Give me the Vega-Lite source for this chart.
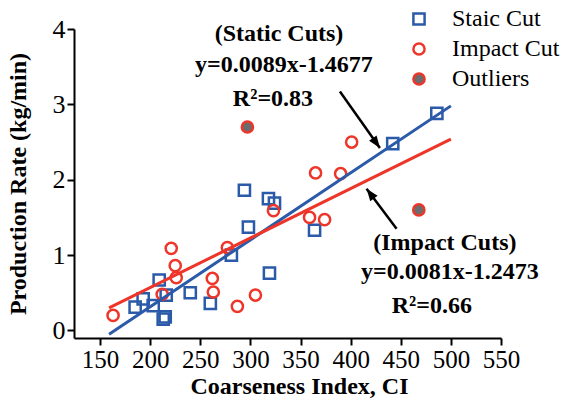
{
  "$schema": "https://vega.github.io/schema/vega-lite/v6.json",
  "autosize": {"type": "none"},
  "width": 427,
  "height": 309,
  "padding": {"left": 74, "top": 29, "right": 62, "bottom": 60},
  "background": "white",
  "config": {
    "view": {"stroke": null},
    "font": "Liberation Serif",
    "axis": {
      "grid": false,
      "domainColor": "black",
      "domainWidth": 2,
      "tickColor": "black",
      "tickWidth": 2,
      "tickSize": 7,
      "labelFont": "Liberation Serif",
      "labelFontSize": 26,
      "labelColor": "black",
      "labelPadding": 2,
      "labelOverlap": false,
      "labelFlush": false,
      "titleFont": "Liberation Serif",
      "titleFontSize": 24,
      "titleFontWeight": "bold",
      "titleColor": "black"
    }
  },
  "datasets": {
    "points": [
      {"ci": 185, "rate": 0.31, "series": "Staic Cut"},
      {"ci": 193, "rate": 0.42, "series": "Staic Cut"},
      {"ci": 203, "rate": 0.33, "series": "Staic Cut"},
      {"ci": 209, "rate": 0.67, "series": "Staic Cut"},
      {"ci": 216, "rate": 0.47, "series": "Staic Cut"},
      {"ci": 213, "rate": 0.15, "series": "Staic Cut"},
      {"ci": 215, "rate": 0.18, "series": "Staic Cut"},
      {"ci": 240, "rate": 0.5, "series": "Staic Cut"},
      {"ci": 260, "rate": 0.36, "series": "Staic Cut"},
      {"ci": 281, "rate": 1.0, "series": "Staic Cut"},
      {"ci": 294, "rate": 1.86, "series": "Staic Cut"},
      {"ci": 298, "rate": 1.37, "series": "Staic Cut"},
      {"ci": 319, "rate": 0.76, "series": "Staic Cut"},
      {"ci": 318, "rate": 1.75, "series": "Staic Cut"},
      {"ci": 324, "rate": 1.69, "series": "Staic Cut"},
      {"ci": 364, "rate": 1.33, "series": "Staic Cut"},
      {"ci": 442, "rate": 2.48, "series": "Staic Cut"},
      {"ci": 486, "rate": 2.88, "series": "Staic Cut"},
      {"ci": 163, "rate": 0.2, "series": "Impact Cut"},
      {"ci": 212, "rate": 0.48, "series": "Impact Cut"},
      {"ci": 226, "rate": 0.7, "series": "Impact Cut"},
      {"ci": 225, "rate": 0.86, "series": "Impact Cut"},
      {"ci": 221, "rate": 1.09, "series": "Impact Cut"},
      {"ci": 262, "rate": 0.69, "series": "Impact Cut"},
      {"ci": 263, "rate": 0.51, "series": "Impact Cut"},
      {"ci": 287, "rate": 0.32, "series": "Impact Cut"},
      {"ci": 305, "rate": 0.47, "series": "Impact Cut"},
      {"ci": 277, "rate": 1.1, "series": "Impact Cut"},
      {"ci": 323, "rate": 1.59, "series": "Impact Cut"},
      {"ci": 359, "rate": 1.5, "series": "Impact Cut"},
      {"ci": 374, "rate": 1.47, "series": "Impact Cut"},
      {"ci": 365, "rate": 2.09, "series": "Impact Cut"},
      {"ci": 390, "rate": 2.08, "series": "Impact Cut"},
      {"ci": 401, "rate": 2.5, "series": "Impact Cut"},
      {"ci": 297, "rate": 2.7, "series": "Outliers"},
      {"ci": 468, "rate": 1.6, "series": "Outliers"}
    ],
    "fits": [
      {"ci": 159, "rate": -0.05, "fit": "Static"},
      {"ci": 500, "rate": 2.98, "fit": "Static"},
      {"ci": 159, "rate": 0.3, "fit": "Impact"},
      {"ci": 500, "rate": 2.54, "fit": "Impact"}
    ],
    "arrows": [
      {"arrow": "Static", "ci": 389.3, "rate": 3.17, "ci2": 429.2, "rate2": 2.42},
      {"arrow": "Impact", "ci": 445.8, "rate": 1.35, "ci2": 415.9, "rate2": 1.88}
    ],
    "notes": [
      {"ci": 328.5, "rate": 3.94, "text": "(Static Cuts)"},
      {"ci": 333.4, "rate": 3.52, "text": "y=0.0089x-1.4677"},
      {"ci": 322.5, "rate": 3.07, "text": "R²=0.83"},
      {"ci": 494, "rate": 1.16, "text": "(Impact Cuts)"},
      {"ci": 499, "rate": 0.77, "text": "y=0.0081x-1.2473"},
      {"ci": 481, "rate": 0.33, "text": "R²=0.66"}
    ]
  },
  "encoding": {
    "x": {
      "field": "ci", "type": "quantitative",
      "scale": {"domain": [124, 550], "nice": false, "zero": false},
      "axis": {"values": [150, 200, 250, 300, 350, 400, 450, 500, 550], "title": "Coarseness Index, CI", "titlePadding": 2, "labelFontSize": 25, "titleX": 225}
    },
    "y": {
      "field": "rate", "type": "quantitative",
      "scale": {"domain": [-0.1, 4], "nice": false, "zero": false},
      "axis": {"values": [0, 1, 2, 3, 4], "title": "Production Rate (kg/min)", "titlePadding": 22}
    }
  },
  "layer": [
    {
      "data": {"name": "points"},
      "mark": {"type": "point", "size": 125, "strokeWidth": 2.5, "opacity": 1},
      "encoding": {
        "shape": {
          "field": "series", "type": "nominal",
          "scale": {"domain": ["Staic Cut", "Impact Cut", "Outliers"], "range": ["square", "circle", "circle"]},
          "legend": {
            "orient": "none", "legendX": 333, "legendY": -22, "title": null,
            "labelFont": "Liberation Serif", "labelFontSize": 24, "labelColor": "black",
            "labelOffset": 21, "rowPadding": 6, "padding": 0, "labelLimit": 200,
            "symbolSize": 125, "symbolStrokeWidth": 2.5
          }
        },
        "stroke": {
          "field": "series", "type": "nominal",
          "scale": {"domain": ["Staic Cut", "Impact Cut", "Outliers"], "range": ["#2b5aa8", "#ee3529", "#ee3529"]}
        },
        "fill": {
          "field": "series", "type": "nominal",
          "scale": {"domain": ["Staic Cut", "Impact Cut", "Outliers"], "range": ["transparent", "transparent", "#6b6c6e"]}
        }
      }
    },
    {
      "data": {"name": "fits"},
      "transform": [{"filter": "datum.fit == 'Static'"}],
      "mark": {"type": "line", "color": "#2b5aa8", "strokeWidth": 3},
      "encoding": {}
    },
    {
      "data": {"name": "fits"},
      "transform": [{"filter": "datum.fit == 'Impact'"}],
      "mark": {"type": "line", "color": "#ee3529", "strokeWidth": 3},
      "encoding": {}
    },
    {
      "data": {"name": "arrows"},
      "mark": {"type": "rule", "color": "black", "strokeWidth": 2.5},
      "encoding": {"x2": {"field": "ci2"}, "y2": {"field": "rate2"}}
    },
    {
      "data": {"name": "arrows"},
      "transform": [{"filter": "datum.arrow == 'Static'"}],
      "mark": {"type": "point", "shape": "M0,0L0.75,2L-0.75,2Z", "filled": true, "color": "black", "size": 150, "angle": 144.6, "opacity": 1},
      "encoding": {"x": {"field": "ci2", "type": "quantitative"}, "y": {"field": "rate2", "type": "quantitative"}}
    },
    {
      "data": {"name": "arrows"},
      "transform": [{"filter": "datum.arrow == 'Impact'"}],
      "mark": {"type": "point", "shape": "M0,0L0.75,2L-0.75,2Z", "filled": true, "color": "black", "size": 150, "angle": 323.1, "opacity": 1},
      "encoding": {"x": {"field": "ci2", "type": "quantitative"}, "y": {"field": "rate2", "type": "quantitative"}}
    },
    {
      "data": {"name": "notes"},
      "mark": {"type": "text", "font": "Liberation Serif", "fontSize": 24, "fontWeight": "bold", "color": "black", "align": "center", "baseline": "middle"},
      "encoding": {"text": {"field": "text"}}
    }
  ]
}
